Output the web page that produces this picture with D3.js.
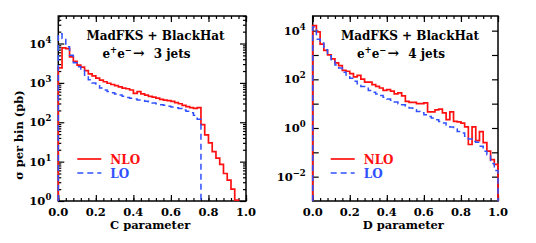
<!DOCTYPE html>
<html>
<head>
<meta charset="utf-8">
<script src="https://cdn.jsdelivr.net/npm/d3@7"></script>
<style>
  body { margin: 0; background: #fff; }
  text { font-family: "DejaVu Serif", serif; font-weight: bold; fill: #000; }
</style>
</head>
<body>
<div class="viz"></div>
<script>
// histogram bins: 50 bins of width 0.02 from 0 to 1
const binWidth = 0.02;

// C parameter, e+e- -> 3 jets (pb per bin)
const cNLO = [2400, 7760, 7400, 4570, 3550, 2820, 2510, 2040, 1700, 1510,
  1320, 1175, 1070, 980, 910, 850, 795, 740, 710, 660,
  540, 600, 525, 490, 455, 435, 410, 380, 365, 355,
  340, 315, 295, 270, 250, 235, 225, 235, 87, 48,
  30, 18, 12.3, 8.5, 5.0, 3.4, 2.0, 1.05, 0, 0];
const cLO = [17800, 13500, 8300, 5000, 3240, 2570, 2090, 1480, 1200, 1000,
  850, 740, 660, 600, 560, 525, 490, 455, 425, 405,
  390, 370, 355, 340, 325, 310, 295, 280, 270, 255,
  245, 235, 225, 205, 190, 175, 150, 120, 0, 0,
  0, 0, 0, 0, 0, 0, 0, 0, 0, 0];

// D parameter, e+e- -> 4 jets (pb per bin)
const dNLO = [16200, 8900, 2800, 1550, 1020, 690, 470, 365, 235, 215,
  170, 126, 145, 102, 76, 76, 60, 51, 44, 35,
  38, 33, 25, 28, 21, 12.3, 11.2, 11.2, 10, 10,
  10.7, 4.6, 4.6, 5.6, 6.0, 4.2, 2.2, 4.6, 1.86, 1.78,
  1.58, 1.12, 0.21, 1.12, 0.30, 0.71, 0.25, 0.112, 0.050, 0.032];
const dLO = [14100, 4470, 3100, 1660, 930, 550, 390, 295, 195, 141,
  110, 83, 66, 51, 43, 35, 29.5, 25, 21.4, 18.2,
  15.5, 13.8, 11.7, 10, 9.1, 7.8, 6.6, 5.6, 4.8, 4.2,
  3.5, 3.0, 2.6, 2.2, 1.86, 1.62, 1.32, 1.10, 0.91, 0.72,
  0.62, 0.46, 0.355, 0.28, 0.257, 0.178, 0.110, 0.079, 0.035, 0.018];

const xTickLabels = ["0.0", "0.2", "0.4", "0.6", "0.8", "1.0"];
const xMajor = [0, 0.2, 0.4, 0.6, 0.8, 1.0];

const red = "#ff1010", blue = "#3050ff";

const svg = d3.select(".viz").append("svg")
  .attr("width", 536).attr("height", 243);

function drawPanel(opt) {
  const x = d3.scaleLinear().domain([0, 1]).range([opt.left, opt.right]);
  const y = d3.scaleLog().domain(opt.yDomain).range([opt.bottom, opt.top]).clamp(true);
  const g = svg.append("g");

  // x ticks, bottom and top, pointing inward
  const minor = d3.range(0, 1.0001, 0.04);
  g.append("g").attr("transform", `translate(0,${opt.bottom})`)
    .call(d3.axisBottom(x).tickValues(minor).tickSize(-3).tickFormat(""));
  g.append("g").attr("transform", `translate(0,${opt.bottom})`)
    .call(d3.axisBottom(x).tickValues(xMajor).tickSize(-6).tickFormat(""));
  g.append("g").attr("transform", `translate(0,${opt.top})`)
    .call(d3.axisTop(x).tickValues(minor).tickSize(-3).tickFormat(""));
  g.append("g").attr("transform", `translate(0,${opt.top})`)
    .call(d3.axisTop(x).tickValues(xMajor).tickSize(-6).tickFormat(""));

  // y ticks, left and right
  g.append("g").attr("transform", `translate(${opt.left},0)`)
    .call(d3.axisLeft(y).tickValues(opt.yMajor).tickSize(-6).tickFormat(""));
  g.append("g").attr("transform", `translate(${opt.right},0)`)
    .call(d3.axisRight(y).tickValues(opt.yMajor).tickSize(-6).tickFormat(""));
  if (opt.yMinor.length) {
    g.append("g").attr("transform", `translate(${opt.left},0)`)
      .call(d3.axisLeft(y).tickValues(opt.yMinor).tickSize(-3).tickFormat(""));
    g.append("g").attr("transform", `translate(${opt.right},0)`)
      .call(d3.axisRight(y).tickValues(opt.yMinor).tickSize(-3).tickFormat(""));
  }
  g.selectAll(".domain").remove();
  g.selectAll(".tick line").attr("stroke", "#000").attr("stroke-width", 1.2);

  // frame
  g.append("rect")
    .attr("x", opt.left).attr("y", opt.top)
    .attr("width", opt.right - opt.left).attr("height", opt.bottom - opt.top)
    .attr("fill", "none").attr("stroke", "#000").attr("stroke-width", 1.5);

  // x tick labels
  g.selectAll(".xl").data(xMajor).enter().append("text")
    .attr("x", d => x(d)).attr("y", opt.bottom + 15)
    .attr("text-anchor", "middle").attr("font-size", 11.5)
    .text((d, i) => xTickLabels[i]);

  // y tick labels 10^n
  const lab = g.selectAll(".yl").data(opt.yLabels).enter().append("text")
    .attr("x", opt.left - 7).attr("y", d => y(d) + 4)
    .attr("text-anchor", "end").attr("font-size", 11.5);
  lab.append("tspan").text("10");
  lab.append("tspan").attr("dy", -5).attr("font-size", 8.5)
    .text(d => { const e = Math.round(Math.log10(d)); return e < 0 ? "\u2212" + (-e) : e; });

  // axis title
  g.append("text")
    .attr("x", (opt.left + opt.right) / 2 - 2).attr("y", opt.bottom + 28)
    .attr("text-anchor", "middle").attr("font-size", 11.5)
    .text(opt.xTitle);

  // process text
  g.append("text")
    .attr("x", opt.titleX).attr("y", opt.top + 24)
    .attr("text-anchor", "middle").attr("font-size", 12)
    .text("MadFKS + BlackHat");
  const t2 = g.append("text")
    .attr("x", opt.titleX - 9).attr("y", opt.top + 42)
    .attr("text-anchor", "middle").attr("font-size", 12);
  t2.append("tspan").text("e");
  t2.append("tspan").attr("dy", -5).attr("font-size", 8.5).text("+");
  t2.append("tspan").attr("dy", 5).text("e");
  t2.append("tspan").attr("dy", -5).attr("font-size", 8.5).text("\u2212");
  t2.append("tspan").attr("dy", 5).attr("dx", 1).attr("font-size", 14).text("\u2192");
  t2.append("tspan").attr("dx", 9).text(opt.jets);

  // histograms
  const line = d3.line().x(d => x(d[0])).y(d => y(d[1])).curve(d3.curveStepAfter);
  function pts(vals) {
    let n = vals.length;
    while (n > 0 && vals[n - 1] <= 0) n--;
    const ymin = opt.yDomain[0];
    const p = [[0, ymin]];
    for (let i = 0; i < n; i++) p.push([i * binWidth, Math.max(vals[i], ymin)]);
    p.push([n * binWidth, ymin]);
    return p;
  }
  g.append("path").attr("d", line(pts(opt.nlo)))
    .attr("fill", "none").attr("stroke", red).attr("stroke-width", 1.7);
  g.append("path").attr("d", line(pts(opt.lo)))
    .attr("fill", "none").attr("stroke", blue).attr("stroke-width", 1.5)
    .attr("stroke-dasharray", "6,4");

  // legend
  const lx = opt.left + opt.legX;
  g.append("line").attr("x1", lx).attr("x2", lx + 24).attr("y1", 159).attr("y2", 159)
    .attr("stroke", red).attr("stroke-width", 1.7);
  g.append("line").attr("x1", lx).attr("x2", lx + 24).attr("y1", 173).attr("y2", 173)
    .attr("stroke", blue).attr("stroke-width", 1.5).attr("stroke-dasharray", "6,4");
  g.append("text").attr("x", lx + 33).attr("y", 163.5).attr("font-size", 12)
    .style("fill", red).text("NLO");
  g.append("text").attr("x", lx + 33).attr("y", 177.5).attr("font-size", 12)
    .style("fill", blue).text("LO");
}

const decadesC = [1, 10, 100, 1000, 10000];
const minorC = [];
[1, 10, 100, 1000, 10000].forEach(dec => [2, 3, 4, 5, 6, 7, 8, 9].forEach(m => { if (dec * m <= 5e4) minorC.push(dec * m); }));

drawPanel({
  left: 58.3, right: 246, top: 16, bottom: 201,
  yDomain: [1, 5e4], yMajor: decadesC, yMinor: minorC, yLabels: decadesC,
  nlo: cNLO, lo: cLO, xTitle: "C parameter", titleX: 155.5, jets: "3 jets", legX: 19
});

drawPanel({
  left: 312.7, right: 498, top: 16, bottom: 201,
  yDomain: [1e-3, 4e4], yMajor: [1e-2, 1e-1, 1, 10, 100, 1000, 10000], yMinor: [],
  yLabels: [1e-2, 1, 100, 10000],
  nlo: dNLO, lo: dLO, xTitle: "D parameter", titleX: 410, jets: "4 jets", legX: 18
});

// shared y title
svg.append("text")
  .attr("transform", "translate(23,135) rotate(-90)")
  .attr("text-anchor", "middle").attr("font-size", 11.5)
  .text("\u03c3 per bin (pb)");
</script>
</body>
</html>
